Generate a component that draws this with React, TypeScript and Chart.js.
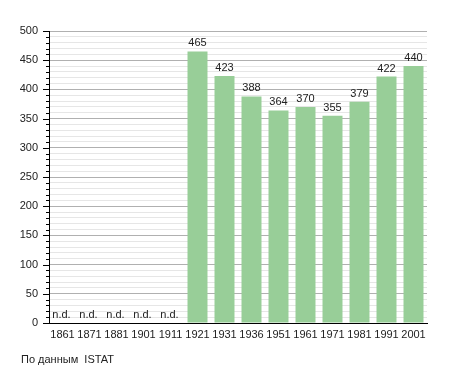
import React, { useEffect, useRef } from "react";
import { Chart, registerables } from "chart.js";

Chart.register(...registerables);

const years = ["1861", "1871", "1881", "1901", "1911", "1921", "1931", "1936", "1951", "1961", "1971", "1981", "1991", "2001"];
const population: (number | null)[] = [null, null, null, null, null, 465, 423, 388, 364, 370, 355, 379, 422, 440];
const noDataLabel = "n.d.";
const sourceNote = "По данным  ISTAT";

const FONT = "'Liberation Sans', Arial, sans-serif";

const labelsPlugin = {
  id: "labelsPlugin",
  afterDatasetsDraw(chart: any) {
    const ctx = chart.ctx;
    const meta = chart.getDatasetMeta(0);
    const x = chart.scales.x;
    const y = chart.scales.y;
    ctx.save();
    ctx.font = `11px ${FONT}`;
    ctx.fillStyle = "#222";
    ctx.textAlign = "center";
    ctx.textBaseline = "alphabetic";
    population.forEach((v, i) => {
      const cx = x.getPixelForValue(i);
      if (v === null) {
        ctx.fillText(noDataLabel, cx - 1, y.getPixelForValue(0) - 5);
      } else {
        const el = meta.data[i];
        ctx.fillText(String(v), el.x, el.y - 5);
      }
    });
    // y tick marks
    const left = chart.chartArea.left;
    ctx.strokeStyle = "#000";
    ctx.lineWidth = 1;
    for (let v = 0; v <= 500; v += 10) {
      const py = Math.round(y.getPixelForValue(v)) + 0.5;
      const len = v % 50 === 0 ? 6 : 3;
      ctx.beginPath();
      ctx.moveTo(left - len, py);
      ctx.lineTo(left, py);
      ctx.stroke();
    }
    // footer
    ctx.textAlign = "left";
    ctx.textBaseline = "middle";
    ctx.fillText(sourceNote, 21, 360);
    ctx.restore();
  },
};

export default function App() {
  const ref = useRef<HTMLCanvasElement>(null);
  useEffect(() => {
    if (!ref.current) return;
    const chart = new Chart(ref.current, {
      type: "bar",
      data: {
        labels: years,
        datasets: [
          {
            data: population,
            backgroundColor: "rgb(152,206,152)",
            borderWidth: 0,
            barPercentage: 0.74,
            categoryPercentage: 1,
          },
        ],
      },
      options: {
        animation: false,
        responsive: false,
        devicePixelRatio: 1,
        layout: { padding: { left: 0, right: 28, top: 31, bottom: 0 } },
        plugins: { legend: { display: false }, tooltip: { enabled: false } },
        scales: {
          x: {
            grid: { display: false, drawTicks: false },
            border: { display: true, color: "#000", width: 1 },
            ticks: { color: "#222", font: { family: FONT, size: 11 }, padding: 5, maxRotation: 0, autoSkip: false },
            afterFit: (s: any) => { s.height = 50; },
          },
          y: {
            min: 0,
            max: 500,
            grid: {
              drawTicks: false,
              color: (c: any) => (c.tick && c.tick.value % 50 === 0 ? "#b0b0b0" : "#e6e6e6"),
            },
            border: { display: true, color: "#000", width: 1 },
            ticks: {
              stepSize: 10,
              autoSkip: false,
              padding: 11,
              color: "#222",
              font: { family: FONT, size: 11 },
              callback: (v: any) => (Number(v) % 50 === 0 ? String(v) : ""),
            },
            afterFit: (s: any) => { s.width = 49; },
          },
        },
      },
      plugins: [labelsPlugin],
    });
    return () => chart.destroy();
  }, []);
  return (
    <div style={{ position: "fixed", left: 0, top: 0, width: 455, height: 373, background: "#fff" }}>
      <canvas ref={ref} width={455} height={373} style={{ width: 455, height: 373 }} />
    </div>
  );
}
